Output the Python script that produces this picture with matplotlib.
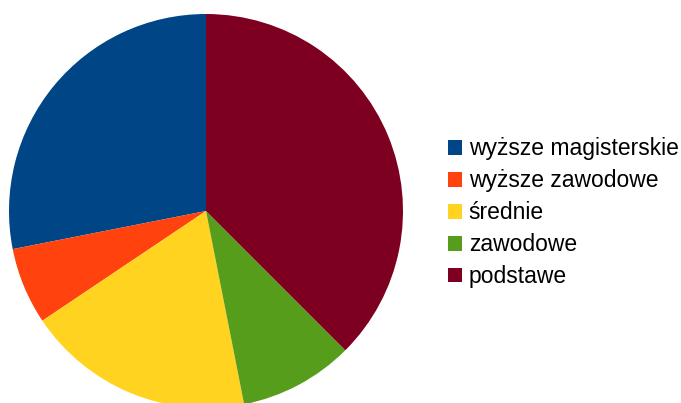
import matplotlib.pyplot as plt
from matplotlib.patches import Patch

plt.rcParams['font.family'] = ['Liberation Sans', 'DejaVu Sans']

# Dane (udział procentowy)
categories = ['wyższe magisterskie', 'wyższe zawodowe', 'średnie', 'zawodowe', 'podstawe']
shares = [28.1, 6.3, 18.7, 9.4, 37.5]
colors = ['#004586', '#ff420e', '#ffd320', '#579d1c', '#7e0021']

fig = plt.figure(figsize=(6.81, 4.03), dpi=100)

# Pie axes: center ~(206, 211) px, radius ~197 px
cx, cy, r = 206, 211, 197
ax = fig.add_axes([(cx - r) / 681, (403 - cy - r) / 403, 2 * r / 681, 2 * r / 403])
ax.pie(shares, colors=colors, startangle=90, counterclock=True, radius=1,
       wedgeprops=dict(linewidth=0))
ax.set_xlim(-1, 1)
ax.set_ylim(-1, 1)
ax.set_aspect('equal')
ax.axis('off')

handles = [Patch(facecolor=c, edgecolor='none') for c in colors]
fig.legend(handles, categories, loc='upper left', bbox_to_anchor=(448 / 681, 1 - 137.5 / 403),
           frameon=False, fontsize=16.5, handlelength=0.6, handleheight=0.6,
           handletextpad=0.3, labelspacing=0.39, borderpad=0, borderaxespad=0)

fig.savefig('out.png', dpi=100)
